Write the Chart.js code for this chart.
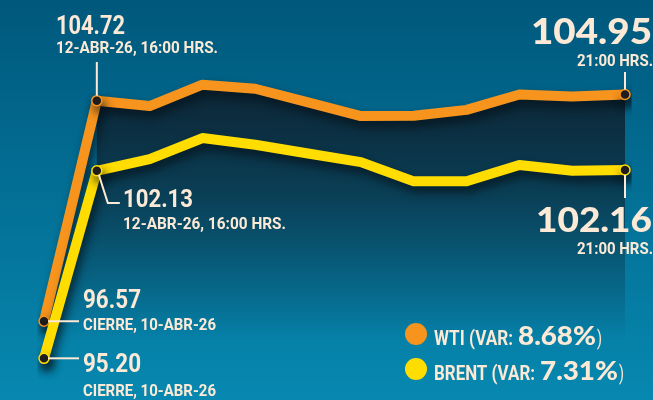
<!DOCTYPE html>
<html>
<head>
<meta charset="utf-8">
<script src="https://cdn.jsdelivr.net/npm/chart.js@4/dist/chart.umd.min.js"></script>
<style>
  html, body { margin: 0; padding: 0; background: #006387; }
  #wrap { width: 653px; height: 400px; position: relative; }
</style>
</head>
<body>
<div id="wrap"><canvas id="c" width="653" height="400"></canvas></div>
<script>
// ---- data ----
const categories = ['10-ABR CIERRE', '16:00', '16:30', '17:00', '17:30', '18:00', '18:30', '19:00', '19:30', '20:00', '20:30', '21:00'];
const wtiValues   = [96.57, 104.72, 104.52, 105.31, 105.16, 104.66, 104.15, 104.16, 104.38, 104.95, 104.87, 104.95];
const brentValues = [95.20, 102.13, 102.56, 103.34, 103.09, 102.77, 102.45, 101.74, 101.74, 102.34, 102.13, 102.16];
const seriesNames = ['WTI', 'BRENT'];
const seriesVar = ['8.68%', '7.31%'];
const closeLabel = 'CIERRE, 10-ABR-26';
const openLabel = '12-ABR-26, 16:00 HRS.';
const lastLabel = '21:00 HRS.';

const ORANGE = '#F7941D';
const YELLOW = '#FFDD00';
const CREAM = '#FCEAD6';

function fitText(ctx, s, x, y, size, font, width, align) {
  ctx.save();
  ctx.font = font.replace('SIZE', size + 'px');
  const m = ctx.measureText(s).width;
  const sx = width / m;
  ctx.translate(x, y);
  ctx.scale(sx, 1);
  ctx.textAlign = align || 'left';
  ctx.textBaseline = 'alphabetic';
  ctx.fillStyle = CREAM;
  ctx.fillText(s, 0, 0);
  ctx.restore();
  return width;
}
const COND = 'bold SIZE Roboto, "Liberation Sans", sans-serif';
const WIDE = '900 SIZE Lato, "DejaVu Sans", sans-serif';

function leader(ctx, pts) {
  ctx.save();
  ctx.strokeStyle = CREAM;
  ctx.lineWidth = 2;
  ctx.beginPath();
  ctx.moveTo(pts[0][0], pts[0][1]);
  for (let i = 1; i < pts.length; i++) ctx.lineTo(pts[i][0], pts[i][1]);
  ctx.stroke();
  ctx.restore();
}

const bgPlugin = {
  id: 'bg',
  beforeDraw(chart) {
    const ctx = chart.ctx;
    const g = ctx.createLinearGradient(0, 0, 0, chart.height);
    g.addColorStop(0, '#00587c');
    g.addColorStop(1, '#0788b0');
    ctx.save();
    ctx.fillStyle = g;
    ctx.fillRect(0, 0, chart.width, chart.height);
    // darker region under the WTI line
    const x = chart.scales.x, y = chart.scales.y;
    const n = categories.length;
    ctx.beginPath();
    ctx.moveTo(x.getPixelForValue(1), y.getPixelForValue(wtiValues[1]));
    for (let i = 2; i < n; i++) ctx.lineTo(x.getPixelForValue(i), y.getPixelForValue(wtiValues[i]));
    ctx.lineTo(x.getPixelForValue(n - 1), chart.height);
    ctx.lineTo(x.getPixelForValue(0), chart.height);
    ctx.lineTo(x.getPixelForValue(0), y.getPixelForValue(brentValues[0]));
    ctx.lineTo(x.getPixelForValue(1), y.getPixelForValue(brentValues[1]));
    ctx.closePath();
    const d = ctx.createLinearGradient(0, 80, 0, 340);
    d.addColorStop(0, 'rgba(14,34,48,0.95)');
    d.addColorStop(0.45, 'rgba(14,34,48,0.62)');
    d.addColorStop(1, 'rgba(14,34,48,0)');
    ctx.fillStyle = d;
    ctx.fill();
    ctx.restore();
  }
};

const shadowPlugin = {
  id: 'shadow',
  beforeDatasetDraw(chart) {
    const ctx = chart.ctx;
    ctx.save();
    ctx.shadowColor = 'rgba(5,18,26,0.75)';
    ctx.shadowBlur = 10;
    ctx.shadowOffsetX = 3;
    ctx.shadowOffsetY = 6;
  },
  afterDatasetDraw(chart) {
    chart.ctx.restore();
  }
};

const labelPlugin = {
  id: 'labels',
  afterDatasetsDraw(chart) {
    const ctx = chart.ctx;
    const x = chart.scales.x, y = chart.scales.y;
    const n = categories.length;
    const x0 = x.getPixelForValue(0), x1 = x.getPixelForValue(1), xl = x.getPixelForValue(n - 1);
    const w0 = y.getPixelForValue(wtiValues[0]), w1 = y.getPixelForValue(wtiValues[1]), wl = y.getPixelForValue(wtiValues[n - 1]);
    const b0 = y.getPixelForValue(brentValues[0]), b1 = y.getPixelForValue(brentValues[1]), bl = y.getPixelForValue(brentValues[n - 1]);

    // WTI first point after open
    leader(ctx, [[x1, 62], [x1, w1 - 5]]);
    fitText(ctx, wtiValues[1].toFixed(2), 56, 34, 25.5, COND, 69, 'left');
    fitText(ctx, openLabel, 56, 53, 16.5, COND, 162, 'left');

    // WTI last
    leader(ctx, [[xl, 72], [xl, wl - 5]]);
    fitText(ctx, wtiValues[n - 1].toFixed(2), 652, 44, 36, WIDE, 121, 'right');
    fitText(ctx, lastLabel, 653, 66, 16.5, COND, 76, 'right');

    // Brent open
    leader(ctx, [[x1 + 2, b1 + 4], [x1 + 11, 203], [x1 + 23, 203]]);
    fitText(ctx, brentValues[1].toFixed(2), 123, 207, 26.5, COND, 70, 'left');
    fitText(ctx, openLabel, 123, 229, 16.5, COND, 163, 'left');

    // Brent last
    leader(ctx, [[xl, bl + 5], [xl, 198]]);
    fitText(ctx, brentValues[n - 1].toFixed(2), 652, 232, 35, WIDE, 116, 'right');
    fitText(ctx, lastLabel, 653, 254, 16.5, COND, 76, 'right');

    // close values
    leader(ctx, [[x0 + 4, w0], [79, w0]]);
    fitText(ctx, wtiValues[0].toFixed(2), 83, 308, 25.5, COND, 58, 'left');
    fitText(ctx, closeLabel, 83, 330, 16.5, COND, 133, 'left');
    leader(ctx, [[x0 + 4, b0], [79, b0]]);
    fitText(ctx, brentValues[0].toFixed(2), 83, 372, 25.5, COND, 58, 'left');
    fitText(ctx, closeLabel, 83, 396, 16.5, COND, 133, 'left');

    // legend
    const legend = [
      { color: ORANGE, name: seriesNames[0], v: seriesVar[0], cy: 334, w1: 84, w2: 78 },
      { color: YELLOW, name: seriesNames[1], v: seriesVar[1], cy: 369, w1: 106, w2: 78 }
    ];
    legend.forEach(l => {
      ctx.save();
      ctx.fillStyle = l.color;
      ctx.beginPath();
      ctx.arc(416, l.cy, 11, 0, Math.PI * 2);
      ctx.fill();
      ctx.restore();
      let xx = 434;
      const base = l.cy + 11;
      xx += fitText(ctx, l.name + ' (VAR:', xx, base, 21, COND, l.w1 - 5, 'left') + 5;
      xx += fitText(ctx, l.v, xx, base, 26, WIDE, l.w2, 'left') + 1;
      fitText(ctx, ')', xx, base, 21, 'SIZE Roboto, sans-serif', 5, 'left');
    });
  }
};

const pr = (arr) => arr.map((_, i) => (i === 0 || i === 1 || i === arr.length - 1) ? 5 : 0);

new Chart(document.getElementById('c'), {
  type: 'line',
  data: {
    labels: categories,
    datasets: [
      {
        label: seriesNames[1],
        data: brentValues,
        borderColor: YELLOW,
        borderWidth: 10,
        borderCapStyle: 'round',
        borderJoinStyle: 'round',
        pointRadius: pr(brentValues),
        pointBackgroundColor: '#231f20',
        pointBorderColor: YELLOW,
        pointBorderWidth: 1.5,
        tension: 0,
        fill: false
      },
      {
        label: seriesNames[0],
        data: wtiValues,
        borderColor: ORANGE,
        borderWidth: 10,
        borderCapStyle: 'round',
        borderJoinStyle: 'round',
        pointRadius: pr(wtiValues),
        pointBackgroundColor: '#231f20',
        pointBorderColor: ORANGE,
        pointBorderWidth: 1.5,
        tension: 0,
        fill: false
      }
    ]
  },
  options: {
    responsive: false,
    animation: false,
    layout: { padding: { left: 44, right: 28, top: 0, bottom: 0 } },
    plugins: { legend: { display: false }, tooltip: { enabled: false } },
    scales: {
      x: { display: false, offset: false },
      y: { display: false, min: 93.9, max: 108.2 }
    }
  },
  plugins: [bgPlugin, shadowPlugin, labelPlugin]
});
</script>
</body>
</html>
